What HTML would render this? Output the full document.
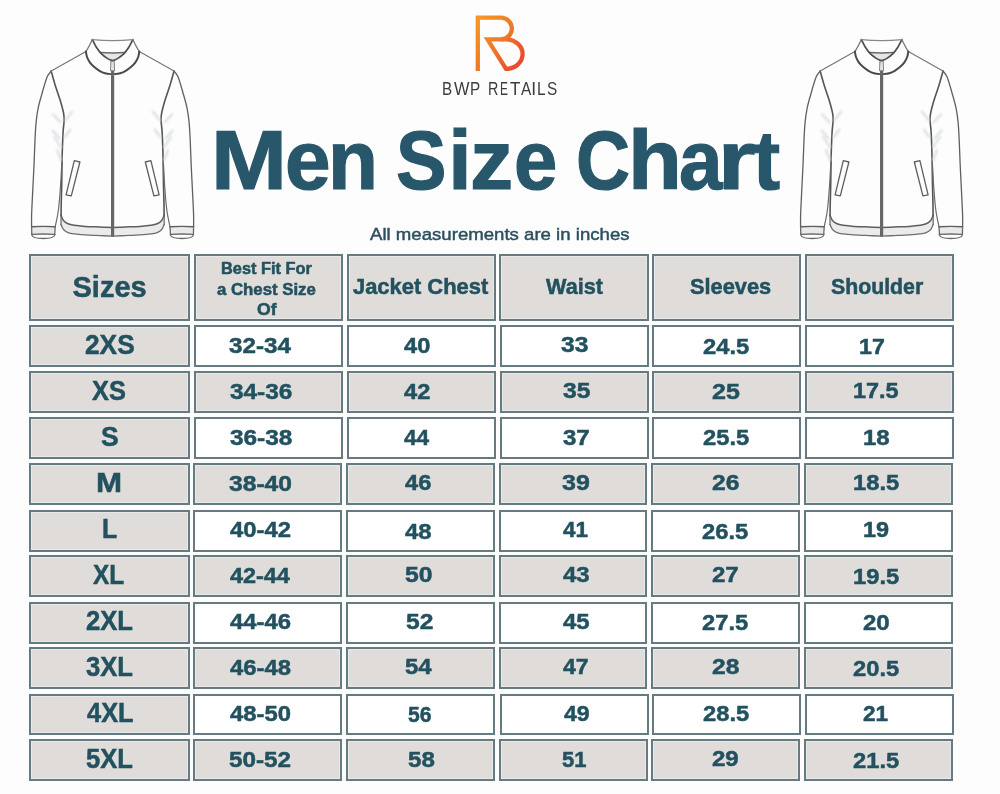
<!DOCTYPE html>
<html><head><meta charset="utf-8"><title>Men Size Chart</title>
<style>
html,body{margin:0;padding:0;background:#fdfdfd;}
body{width:1000px;height:794px;position:relative;overflow:hidden;font-family:"Liberation Sans",Arial,sans-serif;}
.jk,.logo{position:absolute;top:0;}
.logo{left:0;}
.c{position:absolute;box-sizing:border-box;border:2px solid #667a81;}
.g{background:#dfdcd9;box-shadow:inset 0 0 0 1px #e6eaea;}
.w{background:#ffffff;}
.t,.ti,.br,.sub{position:absolute;line-height:1;white-space:nowrap;transform-origin:0 0;}
.lt{display:inline-block;transform-origin:0 0;white-space:pre;}
.t{font-weight:bold;color:#22515f;-webkit-text-stroke:0.5px #22515f;}
.ti{font-weight:bold;font-size:84px;color:#28576b;-webkit-text-stroke:1.2px #28576b;}
.br{font-size:17.5px;color:#3c3c3c;}
.sub{font-weight:normal;color:#2b4f5e;-webkit-text-stroke:0.45px #2b4f5e;}
h1,p{margin:0;}
</style></head><body>
<svg class="jk" style="left:0px" width="200" height="250" viewBox="0 0 200 250"><defs><filter id="blr0" x="-50%" y="-50%" width="200%" height="200%"><feGaussianBlur stdDeviation="1.1"/></filter></defs><g fill="none" stroke-linejoin="round" stroke-linecap="round">
<path d="M100.2,52.6 Q112.6,53.4 125,52.6 C121.5,56 117,59 112.6,60.8 C108,59 103.5,56 100.2,52.6 Z" fill="#e6e6e6" stroke="none"/>
<path d="M100.2,52.6 Q112.6,53.4 125,52.6" stroke="#6a6a6a" stroke-width="1.5"/>
<g><path d="M61.10,215.50 C61.50,216.33 62.35,219.12 63.50,220.50 C64.65,221.88 66.25,223.00 68.00,223.80 C69.75,224.60 71.17,224.87 74.00,225.30 C76.83,225.73 80.67,226.12 85.00,226.40 C89.33,226.68 95.40,226.83 100.00,227.00 C104.60,227.17 110.50,227.33 112.60,227.40 L112.60,236.10 C110.50,236.02 104.60,235.80 100.00,235.60 C95.40,235.40 89.33,235.18 85.00,234.90 C80.67,234.62 76.83,234.28 74.00,233.90 C71.17,233.52 69.75,233.33 68.00,232.60 C66.25,231.87 64.67,230.85 63.50,229.50 C62.33,228.15 61.42,225.33 61.00,224.50 Z" fill="#ebebeb" stroke="none"/>
<path d="M61.10,215.50 C61.50,216.33 62.35,219.12 63.50,220.50 C64.65,221.88 66.25,223.00 68.00,223.80 C69.75,224.60 71.17,224.87 74.00,225.30 C76.83,225.73 80.67,226.12 85.00,226.40 C89.33,226.68 95.40,226.83 100.00,227.00 C104.60,227.17 110.50,227.33 112.60,227.40" stroke="#5e5e5e" stroke-width="1.5"/>
<path d="M61.00,224.50 C61.42,225.33 62.33,228.15 63.50,229.50 C64.67,230.85 66.25,231.87 68.00,232.60 C69.75,233.33 71.17,233.52 74.00,233.90 C76.83,234.28 80.67,234.62 85.00,234.90 C89.33,235.18 95.40,235.40 100.00,235.60 C104.60,235.80 110.50,236.02 112.60,236.10" stroke="#6e6e6e" stroke-width="1.3"/>
<path d="M61.1,215 L61.0,224.5" stroke="#6e6e6e" stroke-width="1.3"/>
<path d="M31.6,226.8 Q43.3,226 55.2,226.8 L54.9,234.4 Q43.3,233.6 31.8,234.4 Z" fill="#e9e9e9" stroke="none"/>
<path d="M31.6,226.8 Q43.3,226 55.2,226.8" stroke="#5e5e5e" stroke-width="1.4"/>
<path d="M31.8,234.4 Q43.3,233.6 54.9,234.4" stroke="#6a6a6a" stroke-width="1.3"/>
<path d="M31.6,226.8 L31.8,235 C32.3,237.6 37,238.5 43.3,238.5 C49.6,238.5 54.3,237.6 54.7,235 L55.2,226.8" stroke="#6a6a6a" stroke-width="1.3"/>
<path d="M51.20,71.10 C50.52,72.10 48.62,73.42 47.10,77.10 C45.58,80.78 43.60,88.00 42.10,93.20 C40.60,98.40 39.10,103.43 38.10,108.30 C37.10,113.17 36.62,117.12 36.10,122.40 C35.58,127.68 35.35,132.87 35.00,140.00 C34.65,147.13 34.42,155.97 34.00,165.20 C33.58,174.43 32.90,187.10 32.50,195.40 C32.10,203.70 31.75,209.77 31.60,215.00 C31.45,220.23 31.60,224.83 31.60,226.80" stroke="#606060" stroke-width="1.3"/>
<path d="M51.20,71.10 C51.87,73.45 53.70,80.33 55.20,85.20 C56.70,90.07 58.80,95.60 60.20,100.30 C61.60,105.00 62.95,110.05 63.60,113.40 C64.25,116.75 64.17,117.55 64.10,120.40 C64.03,123.25 63.43,127.23 63.20,130.50 C62.97,133.77 62.87,135.90 62.70,140.00 C62.53,144.10 62.37,147.60 62.20,155.10 C62.03,162.60 61.87,176.68 61.70,185.00 C61.53,193.32 61.30,199.83 61.20,205.00 C61.10,210.17 61.12,214.17 61.10,216.00" stroke="#555" stroke-width="1.6"/>
<path d="M62.20,155.10 C61.93,160.08 61.23,175.85 60.60,185.00 C59.97,194.15 59.30,203.03 58.40,210.00 C57.50,216.97 55.73,224.00 55.20,226.80" stroke="#6a6a6a" stroke-width="1.2"/>
<path d="M53.2,114.4 L60.8,122.4" stroke="#d9dee2" stroke-width="2.2" filter="url(#blr0)"/>
<path d="M72.3,111.4 L65.5,120.4" stroke="#d9dee2" stroke-width="2.2" filter="url(#blr0)"/>
<path d="M52.6,130.5 L59.5,138.5" stroke="#d9dee2" stroke-width="2.2" filter="url(#blr0)"/>
<path d="M70.3,129.5 L65,137" stroke="#d9dee2" stroke-width="2.2" filter="url(#blr0)"/>
<path d="M54.2,137 L61,147" stroke="#d9dee2" stroke-width="2.2" filter="url(#blr0)"/>
<path d="M57.2,150 L61,160" stroke="#d9dee2" stroke-width="2.2" filter="url(#blr0)"/>
<path d="M85.9,51.6 L51.2,71.1" stroke="#777" stroke-width="1.2"/>
<path d="M92.4,39.6 C90.6,43.2 88.6,47.6 85.9,51.6" stroke="#777" stroke-width="1.3"/>
<path d="M92.40,39.60 C93.15,41.00 95.38,45.62 96.90,48.00 C98.42,50.38 99.77,52.17 101.50,53.90 C103.23,55.63 105.45,57.25 107.30,58.40 C109.15,59.55 111.72,60.40 112.60,60.80" stroke="#4e4e4e" stroke-width="1.7"/>
<path d="M85.90,51.60 C86.08,52.50 86.35,55.22 87.00,57.00 C87.65,58.78 88.63,60.67 89.80,62.30 C90.97,63.93 92.38,65.38 94.00,66.80 C95.62,68.22 97.67,69.73 99.50,70.80 C101.33,71.87 102.82,72.62 105.00,73.20 C107.18,73.78 111.33,74.12 112.60,74.30" stroke="#4a4a4a" stroke-width="2"/>
<path d="M74.3,160.7 L79.9,162 L71.3,195.9 L66.1,194.9 Z" stroke="#5e5e5e" stroke-width="1.3"/></g>
<g transform="translate(225.2,0) scale(-1,1)"><path d="M61.10,215.50 C61.50,216.33 62.35,219.12 63.50,220.50 C64.65,221.88 66.25,223.00 68.00,223.80 C69.75,224.60 71.17,224.87 74.00,225.30 C76.83,225.73 80.67,226.12 85.00,226.40 C89.33,226.68 95.40,226.83 100.00,227.00 C104.60,227.17 110.50,227.33 112.60,227.40 L112.60,236.10 C110.50,236.02 104.60,235.80 100.00,235.60 C95.40,235.40 89.33,235.18 85.00,234.90 C80.67,234.62 76.83,234.28 74.00,233.90 C71.17,233.52 69.75,233.33 68.00,232.60 C66.25,231.87 64.67,230.85 63.50,229.50 C62.33,228.15 61.42,225.33 61.00,224.50 Z" fill="#ebebeb" stroke="none"/>
<path d="M61.10,215.50 C61.50,216.33 62.35,219.12 63.50,220.50 C64.65,221.88 66.25,223.00 68.00,223.80 C69.75,224.60 71.17,224.87 74.00,225.30 C76.83,225.73 80.67,226.12 85.00,226.40 C89.33,226.68 95.40,226.83 100.00,227.00 C104.60,227.17 110.50,227.33 112.60,227.40" stroke="#5e5e5e" stroke-width="1.5"/>
<path d="M61.00,224.50 C61.42,225.33 62.33,228.15 63.50,229.50 C64.67,230.85 66.25,231.87 68.00,232.60 C69.75,233.33 71.17,233.52 74.00,233.90 C76.83,234.28 80.67,234.62 85.00,234.90 C89.33,235.18 95.40,235.40 100.00,235.60 C104.60,235.80 110.50,236.02 112.60,236.10" stroke="#6e6e6e" stroke-width="1.3"/>
<path d="M61.1,215 L61.0,224.5" stroke="#6e6e6e" stroke-width="1.3"/>
<path d="M31.6,226.8 Q43.3,226 55.2,226.8 L54.9,234.4 Q43.3,233.6 31.8,234.4 Z" fill="#e9e9e9" stroke="none"/>
<path d="M31.6,226.8 Q43.3,226 55.2,226.8" stroke="#5e5e5e" stroke-width="1.4"/>
<path d="M31.8,234.4 Q43.3,233.6 54.9,234.4" stroke="#6a6a6a" stroke-width="1.3"/>
<path d="M31.6,226.8 L31.8,235 C32.3,237.6 37,238.5 43.3,238.5 C49.6,238.5 54.3,237.6 54.7,235 L55.2,226.8" stroke="#6a6a6a" stroke-width="1.3"/>
<path d="M51.20,71.10 C50.52,72.10 48.62,73.42 47.10,77.10 C45.58,80.78 43.60,88.00 42.10,93.20 C40.60,98.40 39.10,103.43 38.10,108.30 C37.10,113.17 36.62,117.12 36.10,122.40 C35.58,127.68 35.35,132.87 35.00,140.00 C34.65,147.13 34.42,155.97 34.00,165.20 C33.58,174.43 32.90,187.10 32.50,195.40 C32.10,203.70 31.75,209.77 31.60,215.00 C31.45,220.23 31.60,224.83 31.60,226.80" stroke="#606060" stroke-width="1.3"/>
<path d="M51.20,71.10 C51.87,73.45 53.70,80.33 55.20,85.20 C56.70,90.07 58.80,95.60 60.20,100.30 C61.60,105.00 62.95,110.05 63.60,113.40 C64.25,116.75 64.17,117.55 64.10,120.40 C64.03,123.25 63.43,127.23 63.20,130.50 C62.97,133.77 62.87,135.90 62.70,140.00 C62.53,144.10 62.37,147.60 62.20,155.10 C62.03,162.60 61.87,176.68 61.70,185.00 C61.53,193.32 61.30,199.83 61.20,205.00 C61.10,210.17 61.12,214.17 61.10,216.00" stroke="#555" stroke-width="1.6"/>
<path d="M62.20,155.10 C61.93,160.08 61.23,175.85 60.60,185.00 C59.97,194.15 59.30,203.03 58.40,210.00 C57.50,216.97 55.73,224.00 55.20,226.80" stroke="#6a6a6a" stroke-width="1.2"/>
<path d="M53.2,114.4 L60.8,122.4" stroke="#d9dee2" stroke-width="2.2" filter="url(#blr0)"/>
<path d="M72.3,111.4 L65.5,120.4" stroke="#d9dee2" stroke-width="2.2" filter="url(#blr0)"/>
<path d="M52.6,130.5 L59.5,138.5" stroke="#d9dee2" stroke-width="2.2" filter="url(#blr0)"/>
<path d="M70.3,129.5 L65,137" stroke="#d9dee2" stroke-width="2.2" filter="url(#blr0)"/>
<path d="M54.2,137 L61,147" stroke="#d9dee2" stroke-width="2.2" filter="url(#blr0)"/>
<path d="M57.2,150 L61,160" stroke="#d9dee2" stroke-width="2.2" filter="url(#blr0)"/>
<path d="M85.9,51.6 L51.2,71.1" stroke="#777" stroke-width="1.2"/>
<path d="M92.4,39.6 C90.6,43.2 88.6,47.6 85.9,51.6" stroke="#777" stroke-width="1.3"/>
<path d="M92.40,39.60 C93.15,41.00 95.38,45.62 96.90,48.00 C98.42,50.38 99.77,52.17 101.50,53.90 C103.23,55.63 105.45,57.25 107.30,58.40 C109.15,59.55 111.72,60.40 112.60,60.80" stroke="#4e4e4e" stroke-width="1.7"/>
<path d="M85.90,51.60 C86.08,52.50 86.35,55.22 87.00,57.00 C87.65,58.78 88.63,60.67 89.80,62.30 C90.97,63.93 92.38,65.38 94.00,66.80 C95.62,68.22 97.67,69.73 99.50,70.80 C101.33,71.87 102.82,72.62 105.00,73.20 C107.18,73.78 111.33,74.12 112.60,74.30" stroke="#4a4a4a" stroke-width="2"/>
<path d="M74.3,160.7 L79.9,162 L71.3,195.9 L66.1,194.9 Z" stroke="#5e5e5e" stroke-width="1.3"/></g>
<path d="M92.4,39.6 Q112.6,41.6 132.8,39.6" stroke="#888" stroke-width="1.4"/>
<path d="M112.6,61 L112.6,236.6" stroke="#676767" stroke-width="3.2" stroke-linecap="butt"/>
<path d="M111.2,61.2 L114.2,61.2 L114.6,70.8 L110.9,70.8 Z" fill="#e4e4e4" stroke="#7a7a7a" stroke-width="0.9"/>
</g></svg>
<svg class="jk" style="left:769px" width="200" height="250" viewBox="0 0 200 250"><defs><filter id="blr769" x="-50%" y="-50%" width="200%" height="200%"><feGaussianBlur stdDeviation="1.1"/></filter></defs><g fill="none" stroke-linejoin="round" stroke-linecap="round">
<path d="M100.2,52.6 Q112.6,53.4 125,52.6 C121.5,56 117,59 112.6,60.8 C108,59 103.5,56 100.2,52.6 Z" fill="#e6e6e6" stroke="none"/>
<path d="M100.2,52.6 Q112.6,53.4 125,52.6" stroke="#6a6a6a" stroke-width="1.5"/>
<g><path d="M61.10,215.50 C61.50,216.33 62.35,219.12 63.50,220.50 C64.65,221.88 66.25,223.00 68.00,223.80 C69.75,224.60 71.17,224.87 74.00,225.30 C76.83,225.73 80.67,226.12 85.00,226.40 C89.33,226.68 95.40,226.83 100.00,227.00 C104.60,227.17 110.50,227.33 112.60,227.40 L112.60,236.10 C110.50,236.02 104.60,235.80 100.00,235.60 C95.40,235.40 89.33,235.18 85.00,234.90 C80.67,234.62 76.83,234.28 74.00,233.90 C71.17,233.52 69.75,233.33 68.00,232.60 C66.25,231.87 64.67,230.85 63.50,229.50 C62.33,228.15 61.42,225.33 61.00,224.50 Z" fill="#ebebeb" stroke="none"/>
<path d="M61.10,215.50 C61.50,216.33 62.35,219.12 63.50,220.50 C64.65,221.88 66.25,223.00 68.00,223.80 C69.75,224.60 71.17,224.87 74.00,225.30 C76.83,225.73 80.67,226.12 85.00,226.40 C89.33,226.68 95.40,226.83 100.00,227.00 C104.60,227.17 110.50,227.33 112.60,227.40" stroke="#5e5e5e" stroke-width="1.5"/>
<path d="M61.00,224.50 C61.42,225.33 62.33,228.15 63.50,229.50 C64.67,230.85 66.25,231.87 68.00,232.60 C69.75,233.33 71.17,233.52 74.00,233.90 C76.83,234.28 80.67,234.62 85.00,234.90 C89.33,235.18 95.40,235.40 100.00,235.60 C104.60,235.80 110.50,236.02 112.60,236.10" stroke="#6e6e6e" stroke-width="1.3"/>
<path d="M61.1,215 L61.0,224.5" stroke="#6e6e6e" stroke-width="1.3"/>
<path d="M31.6,226.8 Q43.3,226 55.2,226.8 L54.9,234.4 Q43.3,233.6 31.8,234.4 Z" fill="#e9e9e9" stroke="none"/>
<path d="M31.6,226.8 Q43.3,226 55.2,226.8" stroke="#5e5e5e" stroke-width="1.4"/>
<path d="M31.8,234.4 Q43.3,233.6 54.9,234.4" stroke="#6a6a6a" stroke-width="1.3"/>
<path d="M31.6,226.8 L31.8,235 C32.3,237.6 37,238.5 43.3,238.5 C49.6,238.5 54.3,237.6 54.7,235 L55.2,226.8" stroke="#6a6a6a" stroke-width="1.3"/>
<path d="M51.20,71.10 C50.52,72.10 48.62,73.42 47.10,77.10 C45.58,80.78 43.60,88.00 42.10,93.20 C40.60,98.40 39.10,103.43 38.10,108.30 C37.10,113.17 36.62,117.12 36.10,122.40 C35.58,127.68 35.35,132.87 35.00,140.00 C34.65,147.13 34.42,155.97 34.00,165.20 C33.58,174.43 32.90,187.10 32.50,195.40 C32.10,203.70 31.75,209.77 31.60,215.00 C31.45,220.23 31.60,224.83 31.60,226.80" stroke="#606060" stroke-width="1.3"/>
<path d="M51.20,71.10 C51.87,73.45 53.70,80.33 55.20,85.20 C56.70,90.07 58.80,95.60 60.20,100.30 C61.60,105.00 62.95,110.05 63.60,113.40 C64.25,116.75 64.17,117.55 64.10,120.40 C64.03,123.25 63.43,127.23 63.20,130.50 C62.97,133.77 62.87,135.90 62.70,140.00 C62.53,144.10 62.37,147.60 62.20,155.10 C62.03,162.60 61.87,176.68 61.70,185.00 C61.53,193.32 61.30,199.83 61.20,205.00 C61.10,210.17 61.12,214.17 61.10,216.00" stroke="#555" stroke-width="1.6"/>
<path d="M62.20,155.10 C61.93,160.08 61.23,175.85 60.60,185.00 C59.97,194.15 59.30,203.03 58.40,210.00 C57.50,216.97 55.73,224.00 55.20,226.80" stroke="#6a6a6a" stroke-width="1.2"/>
<path d="M53.2,114.4 L60.8,122.4" stroke="#d9dee2" stroke-width="2.2" filter="url(#blr769)"/>
<path d="M72.3,111.4 L65.5,120.4" stroke="#d9dee2" stroke-width="2.2" filter="url(#blr769)"/>
<path d="M52.6,130.5 L59.5,138.5" stroke="#d9dee2" stroke-width="2.2" filter="url(#blr769)"/>
<path d="M70.3,129.5 L65,137" stroke="#d9dee2" stroke-width="2.2" filter="url(#blr769)"/>
<path d="M54.2,137 L61,147" stroke="#d9dee2" stroke-width="2.2" filter="url(#blr769)"/>
<path d="M57.2,150 L61,160" stroke="#d9dee2" stroke-width="2.2" filter="url(#blr769)"/>
<path d="M85.9,51.6 L51.2,71.1" stroke="#777" stroke-width="1.2"/>
<path d="M92.4,39.6 C90.6,43.2 88.6,47.6 85.9,51.6" stroke="#777" stroke-width="1.3"/>
<path d="M92.40,39.60 C93.15,41.00 95.38,45.62 96.90,48.00 C98.42,50.38 99.77,52.17 101.50,53.90 C103.23,55.63 105.45,57.25 107.30,58.40 C109.15,59.55 111.72,60.40 112.60,60.80" stroke="#4e4e4e" stroke-width="1.7"/>
<path d="M85.90,51.60 C86.08,52.50 86.35,55.22 87.00,57.00 C87.65,58.78 88.63,60.67 89.80,62.30 C90.97,63.93 92.38,65.38 94.00,66.80 C95.62,68.22 97.67,69.73 99.50,70.80 C101.33,71.87 102.82,72.62 105.00,73.20 C107.18,73.78 111.33,74.12 112.60,74.30" stroke="#4a4a4a" stroke-width="2"/>
<path d="M74.3,160.7 L79.9,162 L71.3,195.9 L66.1,194.9 Z" stroke="#5e5e5e" stroke-width="1.3"/></g>
<g transform="translate(225.2,0) scale(-1,1)"><path d="M61.10,215.50 C61.50,216.33 62.35,219.12 63.50,220.50 C64.65,221.88 66.25,223.00 68.00,223.80 C69.75,224.60 71.17,224.87 74.00,225.30 C76.83,225.73 80.67,226.12 85.00,226.40 C89.33,226.68 95.40,226.83 100.00,227.00 C104.60,227.17 110.50,227.33 112.60,227.40 L112.60,236.10 C110.50,236.02 104.60,235.80 100.00,235.60 C95.40,235.40 89.33,235.18 85.00,234.90 C80.67,234.62 76.83,234.28 74.00,233.90 C71.17,233.52 69.75,233.33 68.00,232.60 C66.25,231.87 64.67,230.85 63.50,229.50 C62.33,228.15 61.42,225.33 61.00,224.50 Z" fill="#ebebeb" stroke="none"/>
<path d="M61.10,215.50 C61.50,216.33 62.35,219.12 63.50,220.50 C64.65,221.88 66.25,223.00 68.00,223.80 C69.75,224.60 71.17,224.87 74.00,225.30 C76.83,225.73 80.67,226.12 85.00,226.40 C89.33,226.68 95.40,226.83 100.00,227.00 C104.60,227.17 110.50,227.33 112.60,227.40" stroke="#5e5e5e" stroke-width="1.5"/>
<path d="M61.00,224.50 C61.42,225.33 62.33,228.15 63.50,229.50 C64.67,230.85 66.25,231.87 68.00,232.60 C69.75,233.33 71.17,233.52 74.00,233.90 C76.83,234.28 80.67,234.62 85.00,234.90 C89.33,235.18 95.40,235.40 100.00,235.60 C104.60,235.80 110.50,236.02 112.60,236.10" stroke="#6e6e6e" stroke-width="1.3"/>
<path d="M61.1,215 L61.0,224.5" stroke="#6e6e6e" stroke-width="1.3"/>
<path d="M31.6,226.8 Q43.3,226 55.2,226.8 L54.9,234.4 Q43.3,233.6 31.8,234.4 Z" fill="#e9e9e9" stroke="none"/>
<path d="M31.6,226.8 Q43.3,226 55.2,226.8" stroke="#5e5e5e" stroke-width="1.4"/>
<path d="M31.8,234.4 Q43.3,233.6 54.9,234.4" stroke="#6a6a6a" stroke-width="1.3"/>
<path d="M31.6,226.8 L31.8,235 C32.3,237.6 37,238.5 43.3,238.5 C49.6,238.5 54.3,237.6 54.7,235 L55.2,226.8" stroke="#6a6a6a" stroke-width="1.3"/>
<path d="M51.20,71.10 C50.52,72.10 48.62,73.42 47.10,77.10 C45.58,80.78 43.60,88.00 42.10,93.20 C40.60,98.40 39.10,103.43 38.10,108.30 C37.10,113.17 36.62,117.12 36.10,122.40 C35.58,127.68 35.35,132.87 35.00,140.00 C34.65,147.13 34.42,155.97 34.00,165.20 C33.58,174.43 32.90,187.10 32.50,195.40 C32.10,203.70 31.75,209.77 31.60,215.00 C31.45,220.23 31.60,224.83 31.60,226.80" stroke="#606060" stroke-width="1.3"/>
<path d="M51.20,71.10 C51.87,73.45 53.70,80.33 55.20,85.20 C56.70,90.07 58.80,95.60 60.20,100.30 C61.60,105.00 62.95,110.05 63.60,113.40 C64.25,116.75 64.17,117.55 64.10,120.40 C64.03,123.25 63.43,127.23 63.20,130.50 C62.97,133.77 62.87,135.90 62.70,140.00 C62.53,144.10 62.37,147.60 62.20,155.10 C62.03,162.60 61.87,176.68 61.70,185.00 C61.53,193.32 61.30,199.83 61.20,205.00 C61.10,210.17 61.12,214.17 61.10,216.00" stroke="#555" stroke-width="1.6"/>
<path d="M62.20,155.10 C61.93,160.08 61.23,175.85 60.60,185.00 C59.97,194.15 59.30,203.03 58.40,210.00 C57.50,216.97 55.73,224.00 55.20,226.80" stroke="#6a6a6a" stroke-width="1.2"/>
<path d="M53.2,114.4 L60.8,122.4" stroke="#d9dee2" stroke-width="2.2" filter="url(#blr769)"/>
<path d="M72.3,111.4 L65.5,120.4" stroke="#d9dee2" stroke-width="2.2" filter="url(#blr769)"/>
<path d="M52.6,130.5 L59.5,138.5" stroke="#d9dee2" stroke-width="2.2" filter="url(#blr769)"/>
<path d="M70.3,129.5 L65,137" stroke="#d9dee2" stroke-width="2.2" filter="url(#blr769)"/>
<path d="M54.2,137 L61,147" stroke="#d9dee2" stroke-width="2.2" filter="url(#blr769)"/>
<path d="M57.2,150 L61,160" stroke="#d9dee2" stroke-width="2.2" filter="url(#blr769)"/>
<path d="M85.9,51.6 L51.2,71.1" stroke="#777" stroke-width="1.2"/>
<path d="M92.4,39.6 C90.6,43.2 88.6,47.6 85.9,51.6" stroke="#777" stroke-width="1.3"/>
<path d="M92.40,39.60 C93.15,41.00 95.38,45.62 96.90,48.00 C98.42,50.38 99.77,52.17 101.50,53.90 C103.23,55.63 105.45,57.25 107.30,58.40 C109.15,59.55 111.72,60.40 112.60,60.80" stroke="#4e4e4e" stroke-width="1.7"/>
<path d="M85.90,51.60 C86.08,52.50 86.35,55.22 87.00,57.00 C87.65,58.78 88.63,60.67 89.80,62.30 C90.97,63.93 92.38,65.38 94.00,66.80 C95.62,68.22 97.67,69.73 99.50,70.80 C101.33,71.87 102.82,72.62 105.00,73.20 C107.18,73.78 111.33,74.12 112.60,74.30" stroke="#4a4a4a" stroke-width="2"/>
<path d="M74.3,160.7 L79.9,162 L71.3,195.9 L66.1,194.9 Z" stroke="#5e5e5e" stroke-width="1.3"/></g>
<path d="M92.4,39.6 Q112.6,41.6 132.8,39.6" stroke="#888" stroke-width="1.4"/>
<path d="M112.6,61 L112.6,236.6" stroke="#676767" stroke-width="3.2" stroke-linecap="butt"/>
<path d="M111.2,61.2 L114.2,61.2 L114.6,70.8 L110.9,70.8 Z" fill="#e4e4e4" stroke="#7a7a7a" stroke-width="0.9"/>
</g></svg>
<svg class="logo" width="1000" height="80" viewBox="0 0 1000 80"><defs><linearGradient id="lg" x1="474" y1="20" x2="526" y2="62" gradientUnits="userSpaceOnUse">
<stop offset="0" stop-color="#f39a24"/><stop offset="0.5" stop-color="#ee7a2a"/><stop offset="1" stop-color="#e6432f"/></linearGradient></defs>
<g fill="none" stroke="url(#lg)" stroke-width="4.3">
<path d="M477.8,71 L477.8,17.7 L501,17.7 A10.8,10.8 0 0 1 501,39.3"/>
<path d="M487.5,39.3 L506,39.3 A16.6,14.8 0 0 1 506,68.9 Z"/>
</g>
</svg>
<p class="br" style="left:442.13px;top:80.95px"><span class="lt" style="width:12.27px;transform:scaleX(0.87)">B</span><span class="lt" style="width:15.93px;transform:scaleX(0.9375)">W</span><span class="lt" style="width:12.59px;transform:scaleX(0.87)">P</span> <span class="lt" style="width:12.44px;transform:scaleX(0.8182)">R</span><span class="lt" style="width:9.78px;transform:scaleX(0.68)">E</span><span class="lt" style="width:10.70px;transform:scaleX(0.97)">T</span><span class="lt" style="width:10.65px;transform:scaleX(0.8818)">A</span><span class="lt" style="width:5.66px;transform:scaleX(1.0)">I</span><span class="lt" style="width:10.41px;transform:scaleX(0.8875)">L</span><span class="lt" style="width:60.00px;transform:scaleX(0.88)">S</span></p>
<h1 class="ti" style="left:211.48px;top:118.3px"><span class="lt" style="width:73.59px;transform:scaleX(1.0862)">M</span><span class="lt" style="width:43.08px;transform:scaleX(0.9756)">e</span><span class="lt" style="width:44.81px;transform:scaleX(0.975)">n</span> <span class="lt" style="width:51.95px;transform:scaleX(0.9)">S</span><span class="lt" style="width:21.67px;transform:scaleX(1.0)">i</span><span class="lt" style="width:44.30px;transform:scaleX(1.0278)">z</span><span class="lt" style="width:38.77px;transform:scaleX(0.9268)">e</span> <span class="lt" style="width:51.37px;transform:scaleX(0.8909)">C</span><span class="lt" style="width:51.50px;transform:scaleX(1.05)">h</span><span class="lt" style="width:38.96px;transform:scaleX(0.9318)">a</span><span class="lt" style="width:35.37px;transform:scaleX(1.14)">r</span><span class="lt" style="width:60.00px;transform:scaleX(0.9692)">t</span></h1>
<p><span class="sub" style="left:369.5px;top:226.25px;font-size:17.2px;transform:scaleX(1.0824)">All measurements are in inches</span></p>
<div class="c g" style="left:29px;top:254px;width:161px;height:67px"></div><div class="c g" style="left:194px;top:254px;width:149px;height:67px"></div><div class="c g" style="left:347px;top:254px;width:149px;height:67px"></div><div class="c g" style="left:499px;top:254px;width:150px;height:67px"></div><div class="c g" style="left:652px;top:254px;width:149px;height:67px"></div><div class="c g" style="left:805px;top:254px;width:149px;height:67px"></div><div class="c g" style="left:29px;top:325px;width:161px;height:42px"></div><div class="c w" style="left:194px;top:325px;width:149px;height:42px"></div><div class="c w" style="left:347px;top:325px;width:149px;height:42px"></div><div class="c w" style="left:500px;top:325px;width:149px;height:42px"></div><div class="c w" style="left:652px;top:325px;width:149px;height:42px"></div><div class="c w" style="left:805px;top:325px;width:149px;height:42px"></div><div class="c g" style="left:29px;top:371px;width:161px;height:42px"></div><div class="c g" style="left:194px;top:371px;width:149px;height:42px"></div><div class="c g" style="left:347px;top:371px;width:149px;height:42px"></div><div class="c g" style="left:500px;top:371px;width:149px;height:42px"></div><div class="c g" style="left:652px;top:371px;width:149px;height:42px"></div><div class="c g" style="left:805px;top:371px;width:149px;height:42px"></div><div class="c g" style="left:29px;top:417px;width:161px;height:42px"></div><div class="c w" style="left:194px;top:417px;width:149px;height:42px"></div><div class="c w" style="left:347px;top:417px;width:149px;height:42px"></div><div class="c w" style="left:500px;top:417px;width:149px;height:42px"></div><div class="c w" style="left:652px;top:417px;width:149px;height:42px"></div><div class="c w" style="left:805px;top:417px;width:149px;height:42px"></div><div class="c g" style="left:29px;top:463px;width:161px;height:42px"></div><div class="c g" style="left:193px;top:463px;width:149px;height:42px"></div><div class="c g" style="left:346px;top:463px;width:149px;height:42px"></div><div class="c g" style="left:499px;top:463px;width:148px;height:42px"></div><div class="c g" style="left:651px;top:463px;width:149px;height:42px"></div><div class="c g" style="left:804px;top:463px;width:149px;height:42px"></div><div class="c g" style="left:29px;top:510px;width:161px;height:42px"></div><div class="c w" style="left:193px;top:510px;width:149px;height:42px"></div><div class="c w" style="left:346px;top:510px;width:149px;height:42px"></div><div class="c w" style="left:499px;top:510px;width:148px;height:42px"></div><div class="c w" style="left:651px;top:510px;width:149px;height:42px"></div><div class="c w" style="left:804px;top:510px;width:149px;height:42px"></div><div class="c g" style="left:29px;top:555px;width:161px;height:42px"></div><div class="c g" style="left:193px;top:555px;width:149px;height:42px"></div><div class="c g" style="left:346px;top:555px;width:149px;height:42px"></div><div class="c g" style="left:499px;top:555px;width:148px;height:42px"></div><div class="c g" style="left:651px;top:555px;width:149px;height:42px"></div><div class="c g" style="left:804px;top:555px;width:149px;height:42px"></div><div class="c g" style="left:29px;top:602px;width:161px;height:42px"></div><div class="c w" style="left:193px;top:602px;width:149px;height:42px"></div><div class="c w" style="left:346px;top:602px;width:149px;height:42px"></div><div class="c w" style="left:499px;top:602px;width:148px;height:42px"></div><div class="c w" style="left:651px;top:602px;width:149px;height:42px"></div><div class="c w" style="left:804px;top:602px;width:149px;height:42px"></div><div class="c g" style="left:29px;top:647px;width:161px;height:42px"></div><div class="c g" style="left:193px;top:647px;width:149px;height:42px"></div><div class="c g" style="left:346px;top:647px;width:149px;height:42px"></div><div class="c g" style="left:499px;top:647px;width:148px;height:42px"></div><div class="c g" style="left:651px;top:647px;width:149px;height:42px"></div><div class="c g" style="left:804px;top:647px;width:149px;height:42px"></div><div class="c g" style="left:29px;top:694px;width:161px;height:41px"></div><div class="c w" style="left:193px;top:694px;width:149px;height:41px"></div><div class="c w" style="left:346px;top:694px;width:149px;height:41px"></div><div class="c w" style="left:500px;top:694px;width:149px;height:41px"></div><div class="c w" style="left:652px;top:694px;width:149px;height:41px"></div><div class="c w" style="left:805px;top:694px;width:149px;height:41px"></div><div class="c g" style="left:29px;top:739px;width:161px;height:42px"></div><div class="c g" style="left:193px;top:739px;width:149px;height:42px"></div><div class="c g" style="left:346px;top:739px;width:149px;height:42px"></div><div class="c g" style="left:499px;top:739px;width:149px;height:42px"></div><div class="c g" style="left:651px;top:739px;width:149px;height:42px"></div><div class="c g" style="left:804px;top:739px;width:149px;height:42px"></div>
<span class="t" style="left:72.5px;top:272.5px;font-size:29px;transform:scaleX(1.0)">Sizes</span><span class="t" style="left:220.98px;top:261.1px;font-size:16px;transform:scaleX(1.0227)">Best Fit For</span><span class="t" style="left:217.15px;top:282.1px;font-size:16px;transform:scaleX(1.0484)">a Chest Size</span><span class="t" style="left:256.9px;top:302.0px;font-size:16px;transform:scaleX(1.1)">Of</span><span class="t" style="left:352.68px;top:277.0px;font-size:21.5px;transform:scaleX(1.0191)">Jacket Chest</span><span class="t" style="left:545.6px;top:277.0px;font-size:21.5px;transform:scaleX(1.0071)">Waist</span><span class="t" style="left:689.69px;top:277.0px;font-size:21.5px;transform:scaleX(1.0128)">Sleeves</span><span class="t" style="left:830.71px;top:276.6px;font-size:21.5px;transform:scaleX(0.9891)">Shoulder</span><span class="t" style="left:84.53px;top:331.65px;font-size:27px;transform:scaleX(0.9735)">2XS</span><span class="t" style="left:228.92px;top:335.25px;font-size:22.4px;transform:scaleX(1.0804)">32-34</span><span class="t" style="left:404.2px;top:334.9px;font-size:22.4px;transform:scaleX(1.0542)">40</span><span class="t" style="left:561.3px;top:334.25px;font-size:22.4px;transform:scaleX(1.1)">33</span><span class="t" style="left:703.14px;top:336.15px;font-size:22.4px;transform:scaleX(1.0595)">24.5</span><span class="t" style="left:858.67px;top:336.15px;font-size:22.4px;transform:scaleX(1.0348)">17</span><span class="t" style="left:92.46px;top:378.45px;font-size:27px;transform:scaleX(0.9412)">XS</span><span class="t" style="left:229.51px;top:380.85px;font-size:22.4px;transform:scaleX(1.0891)">34-36</span><span class="t" style="left:404.2px;top:380.5px;font-size:22.4px;transform:scaleX(1.0542)">42</span><span class="t" style="left:562.9px;top:379.85px;font-size:22.4px;transform:scaleX(1.1)">35</span><span class="t" style="left:712.38px;top:381.4px;font-size:22.4px;transform:scaleX(1.1174)">25</span><span class="t" style="left:853.35px;top:380.2px;font-size:22.4px;transform:scaleX(1.0452)">17.5</span><span class="t" style="left:100.82px;top:424.1px;font-size:27px;transform:scaleX(0.9813)">S</span><span class="t" style="left:229.51px;top:427.25px;font-size:22.4px;transform:scaleX(1.0891)">36-38</span><span class="t" style="left:404.2px;top:426.9px;font-size:22.4px;transform:scaleX(1.012)">44</span><span class="t" style="left:562.93px;top:426.6px;font-size:22.4px;transform:scaleX(1.0739)">37</span><span class="t" style="left:703.14px;top:426.9px;font-size:22.4px;transform:scaleX(1.0595)">25.5</span><span class="t" style="left:863.23px;top:426.9px;font-size:22.4px;transform:scaleX(1.0739)">18</span><span class="t" style="left:96.38px;top:470.15px;font-size:27px;transform:scaleX(1.1579)">M</span><span class="t" style="left:228.9px;top:472.9px;font-size:22.4px;transform:scaleX(1.1)">38-40</span><span class="t" style="left:404.8px;top:472.2px;font-size:22.4px;transform:scaleX(1.0542)">46</span><span class="t" style="left:561.88px;top:471.9px;font-size:22.4px;transform:scaleX(1.1174)">39</span><span class="t" style="left:711.8px;top:472.2px;font-size:22.4px;transform:scaleX(1.1)">26</span><span class="t" style="left:853.34px;top:472.2px;font-size:22.4px;transform:scaleX(1.0595)">18.5</span><span class="t" style="left:101.56px;top:515.65px;font-size:27px;transform:scaleX(0.9214)">L</span><span class="t" style="left:230.0px;top:519.25px;font-size:22.4px;transform:scaleX(1.0643)">40-42</span><span class="t" style="left:405.4px;top:521.35px;font-size:22.4px;transform:scaleX(1.0708)">48</span><span class="t" style="left:563.0px;top:518.9px;font-size:22.4px;transform:scaleX(1.0042)">41</span><span class="t" style="left:701.94px;top:521.35px;font-size:22.4px;transform:scaleX(1.0595)">26.5</span><span class="t" style="left:863.25px;top:518.9px;font-size:22.4px;transform:scaleX(1.0478)">19</span><span class="t" style="left:93.4px;top:562.45px;font-size:27px;transform:scaleX(0.903)">XL</span><span class="t" style="left:230.0px;top:564.9px;font-size:22.4px;transform:scaleX(1.0456)">42-44</span><span class="t" style="left:405.2px;top:564.2px;font-size:22.4px;transform:scaleX(1.1043)">50</span><span class="t" style="left:563.0px;top:564.2px;font-size:22.4px;transform:scaleX(1.0708)">43</span><span class="t" style="left:711.83px;top:563.85px;font-size:22.4px;transform:scaleX(1.0739)">27</span><span class="t" style="left:853.34px;top:565.7px;font-size:22.4px;transform:scaleX(1.0595)">19.5</span><span class="t" style="left:86.15px;top:607.95px;font-size:27px;transform:scaleX(0.9479)">2XL</span><span class="t" style="left:230.0px;top:611.25px;font-size:22.4px;transform:scaleX(1.0643)">44-46</span><span class="t" style="left:406.2px;top:610.9px;font-size:22.4px;transform:scaleX(1.1)">52</span><span class="t" style="left:563.0px;top:610.9px;font-size:22.4px;transform:scaleX(1.0708)">45</span><span class="t" style="left:701.94px;top:612.15px;font-size:22.4px;transform:scaleX(1.0595)">27.5</span><span class="t" style="left:863.23px;top:611.7px;font-size:22.4px;transform:scaleX(1.0739)">20</span><span class="t" style="left:86.15px;top:654.15px;font-size:27px;transform:scaleX(0.9479)">3XL</span><span class="t" style="left:230.0px;top:656.9px;font-size:22.4px;transform:scaleX(1.0643)">46-48</span><span class="t" style="left:405.23px;top:656.2px;font-size:22.4px;transform:scaleX(1.0708)">54</span><span class="t" style="left:563.0px;top:656.1px;font-size:22.4px;transform:scaleX(1.0292)">47</span><span class="t" style="left:711.8px;top:655.85px;font-size:22.4px;transform:scaleX(1.1)">28</span><span class="t" style="left:853.34px;top:657.7px;font-size:22.4px;transform:scaleX(1.0595)">20.5</span><span class="t" style="left:86.5px;top:699.95px;font-size:27px;transform:scaleX(0.9408)">4XL</span><span class="t" style="left:230.0px;top:703.25px;font-size:22.4px;transform:scaleX(1.0643)">48-50</span><span class="t" style="left:408.46px;top:704.15px;font-size:22.4px;transform:scaleX(0.9435)">56</span><span class="t" style="left:564.0px;top:702.9px;font-size:22.4px;transform:scaleX(1.0292)">49</span><span class="t" style="left:703.14px;top:703.2px;font-size:22.4px;transform:scaleX(1.0595)">28.5</span><span class="t" style="left:863.29px;top:703.2px;font-size:22.4px;transform:scaleX(1.0087)">21</span><span class="t" style="left:86.15px;top:746.15px;font-size:27px;transform:scaleX(0.9479)">5XL</span><span class="t" style="left:228.92px;top:748.9px;font-size:22.4px;transform:scaleX(1.0836)">50-52</span><span class="t" style="left:408.32px;top:748.65px;font-size:22.4px;transform:scaleX(1.0783)">58</span><span class="t" style="left:562.02px;top:748.65px;font-size:22.4px;transform:scaleX(0.9826)">51</span><span class="t" style="left:711.83px;top:747.85px;font-size:22.4px;transform:scaleX(1.0739)">29</span><span class="t" style="left:853.34px;top:749.7px;font-size:22.4px;transform:scaleX(1.0595)">21.5</span>
</body></html>
